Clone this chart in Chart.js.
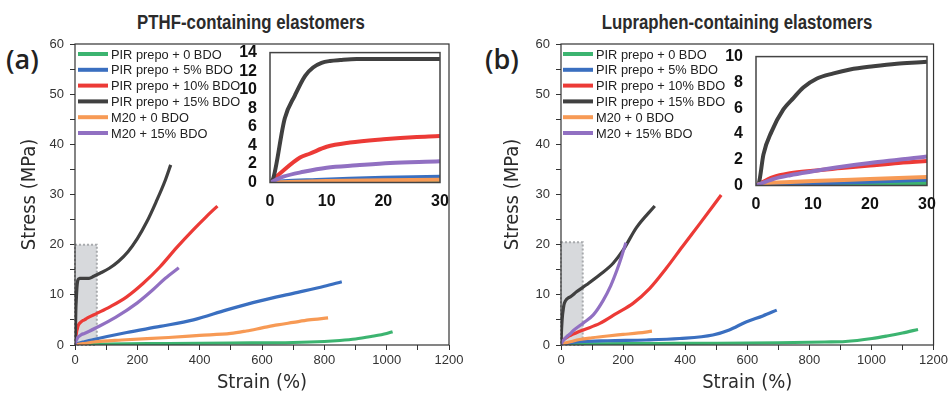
<!DOCTYPE html>
<html>
<head>
<meta charset="utf-8">
<script src="https://cdn.jsdelivr.net/npm/chart.js@4/dist/chart.umd.min.js"></script>
<style>
body { margin: 0; width: 951px; height: 395px; background: #fff; position: relative; overflow: hidden; }
canvas { position: absolute; }
.panelTitle { position: absolute; top: 9px; transform: translateX(-50%) scaleX(0.84); white-space: nowrap;
  font: bold 20px "Liberation Sans", Arial, sans-serif; color: #2b2b2b; line-height: 26px; }
.panelTag { position: absolute; top: 42px; font: 600 27px "Open Sans", sans-serif; color: #222; line-height: 34px; }
</style>
</head>
<body>

<div class="panelTitle" style="left:251px">PTHF-containing elastomers</div>
<div class="panelTitle" style="left:737px">Lupraphen-containing elastomers</div>
<div class="panelTag" style="left:6px">(a)</div>
<div class="panelTag" style="left:485px">(b)</div>

<canvas id="mainA" width="475" height="395" style="left:0;top:0"></canvas>
<canvas id="mainB" width="471" height="395" style="left:480px;top:0"></canvas>
<canvas id="insetA" width="215" height="172" style="left:235px;top:38px"></canvas>
<canvas id="insetB" width="225" height="172" style="left:722px;top:42px"></canvas>

<script>

const seriesLabels = [
    "PIR prepo + 0 BDO",
    "PIR prepo + 5% BDO",
    "PIR prepo + 10% BDO",
    "PIR prepo + 15% BDO",
    "M20 + 0 BDO",
    "M20 + 15% BDO"
];

const seriesColors = ["#3cb470", "#3a6fc0", "#ec3a36", "#404040", "#f79a55", "#9170c2"];

// (a) PTHF-containing elastomers, strain in %, stress in MPa
const pthfStrain0 = [0, 10, 30, 100, 300, 500, 700, 800, 850, 900, 950, 1000, 1019];
const pthfStress0 = [0, 0.06, 0.12, 0.2, 0.3, 0.4, 0.5, 0.7, 0.9, 1.2, 1.7, 2.3, 2.65];

const pthfStrain5 = [0, 2.4, 8.2, 14, 20, 30, 60, 166, 273, 380, 487, 594, 700, 800, 856];
const pthfStress5 = [0, 0.14, 0.28, 0.4, 0.5, 0.63, 1.1, 2.5, 3.7, 5.0, 7.0, 8.8, 10.3, 11.7, 12.6];

const pthfStrain10 = [0, 1.8, 5.3, 7, 10, 14.1, 20, 25.9, 30, 40, 70, 112, 166, 219, 273, 326, 380, 420, 457];
const pthfStress10 = [0, 1.0, 2.7, 3.1, 3.85, 4.3, 4.65, 4.9, 5.0, 5.4, 6.3, 7.6, 9.6, 12.3, 15.6, 19.4, 23.0, 25.5, 27.7];

const pthfStrain15 = [0, 0.5, 2.6, 4.4, 6.2, 7.6, 9.1, 10.6, 12.4, 15.3, 30, 45, 60, 80, 110, 140, 170, 200, 230, 260, 290, 307];
const pthfStress15 = [0, 0.3, 6.9, 9.4, 11.5, 12.4, 12.9, 13.1, 13.2, 13.3, 13.3, 13.3, 13.7, 14.3, 15.3, 16.7, 18.6, 21.2, 24.5, 28.5, 32.9, 35.9];

const pthfM20Strain0 = [0, 5, 10, 20, 30, 60, 150, 300, 400, 500, 550, 600, 650, 700, 750, 812];
const pthfM20Stress0 = [0, 0.08, 0.15, 0.25, 0.3, 0.6, 1.0, 1.5, 1.9, 2.3, 2.8, 3.4, 4.0, 4.5, 5.0, 5.4];

const pthfM20Strain15 = [0, 2.35, 5.9, 10, 15.3, 21.2, 30, 70, 130, 200, 250, 290, 333];
const pthfM20Stress15 = [0, 0.63, 1.15, 1.6, 1.85, 2.1, 2.3, 3.5, 5.5, 8.4, 11, 13.3, 15.4];

// (b) Lupraphen-containing elastomers
const lupStrain0 = [0, 10, 20, 30, 100, 300, 500, 700, 850, 916, 1002, 1050, 1100, 1150];
const lupStress0 = [0, 0.1, 0.15, 0.2, 0.25, 0.3, 0.35, 0.45, 0.6, 0.7, 1.3, 1.8, 2.4, 3.1];

const lupStrain5 = [0, 10, 20, 30, 60, 150, 275, 382, 489, 542, 596, 650, 695];
const lupStress5 = [0, 0.15, 0.3, 0.45, 0.65, 0.85, 1.0, 1.3, 2.0, 3.0, 4.6, 5.8, 6.95];

const lupStrain10 = [0, 3, 6, 10, 15, 20, 25, 30, 72, 125, 179, 232, 286, 339, 392, 446, 516];
const lupStress10 = [0, 0.65, 0.95, 1.15, 1.35, 1.55, 1.75, 1.9, 3.0, 4.3, 6.3, 8.3, 11.3, 15.3, 19.7, 24.1, 29.9];

const lupStrain15 = [0, 0.5, 1.3, 2.75, 4.8, 6.6, 8.3, 10.7, 13.6, 16.5, 20.6, 24.7, 30, 50, 82, 125, 168, 200, 243, 302];
const lupStress15 = [0, 0.2, 2.4, 4.2, 5.9, 6.8, 7.6, 8.3, 8.7, 9.0, 9.25, 9.45, 9.6, 10.6, 12.0, 14.0, 16.3, 18.9, 23.4, 27.7];

const lupM20Strain0 = [0, 0.5, 5, 10, 20, 30, 60, 100, 150, 200, 250, 293];
const lupM20Stress0 = [0, 0.1, 0.25, 0.35, 0.5, 0.65, 1.1, 1.45, 1.8, 2.1, 2.4, 2.75];

const lupM20Strain15 = [0, 3, 6, 10, 15, 20, 25, 30, 40, 72, 104, 135, 160, 180, 195, 209];
const lupM20Stress15 = [0, 0.5, 0.8, 1.1, 1.45, 1.75, 2.0, 2.25, 2.9, 4.4, 6.0, 8.8, 11.8, 14.9, 17.6, 20.4];

// grey box marking the zoomed region (strain %, stress MPa)
const zoomStrainMax = 70;
const zoomStressMaxA = 20;
const zoomStressMaxB = 20.5;

const SANS = '"Liberation Sans", Arial, sans-serif';
const CONDENSED = '"DejaVu Sans Condensed", "Liberation Sans", sans-serif';

const pthfSeries = [
    [pthfStrain0, pthfStress0],
    [pthfStrain5, pthfStress5],
    [pthfStrain10, pthfStress10],
    [pthfStrain15, pthfStress15],
    [pthfM20Strain0, pthfM20Stress0],
    [pthfM20Strain15, pthfM20Stress15]
];

const lupSeries = [
    [lupStrain0, lupStress0],
    [lupStrain5, lupStress5],
    [lupStrain10, lupStress10],
    [lupStrain15, lupStress15],
    [lupM20Strain0, lupM20Stress0],
    [lupM20Strain15, lupM20Stress15]
];

function buildDatasets(series, width) {
    return series.map((s, i) => ({
        label: seriesLabels[i],
        data: s[0].map((x, k) => ({ x: x, y: s[1][k] })),
        borderColor: seriesColors[i],
        borderWidth: width,
        pointRadius: 0,
        showLine: true,
        fill: false,
        cubicInterpolationMode: "monotone",
        order: -i
    }));
}

// frame round the plot area
const frameBox = {
    id: "frameBox",
    beforeDraw(chart, args, opts) {
        const a = chart.chartArea;
        if (opts.fill) {
            chart.ctx.save();
            chart.ctx.fillStyle = "#fff";
            chart.ctx.fillRect(a.left, a.top, a.right - a.left, a.bottom - a.top);
            chart.ctx.restore();
        }
    },
    afterDraw(chart, args, opts) {
        const ctx = chart.ctx;
        const a = chart.chartArea;
        ctx.save();
        ctx.strokeStyle = opts.color || "#333";
        ctx.lineWidth = opts.width || 1.2;
        ctx.strokeRect(a.left, a.top, a.right - a.left, a.bottom - a.top);
        ctx.restore();
    }
};

// shaded box for the region shown in the inset
const zoomBox = {
    id: "zoomBox",
    beforeDatasetsDraw(chart, args, opts) {
        if (!opts.show) return;
        const ctx = chart.ctx;
        const l = chart.scales.x.getPixelForValue(0);
        const r = chart.scales.x.getPixelForValue(opts.xMax);
        const t = chart.scales.y.getPixelForValue(opts.yMax);
        const b = chart.scales.y.getPixelForValue(0);
        ctx.save();
        ctx.fillStyle = "#d7d9dc";
        ctx.fillRect(l, t, r - l, b - t);
        ctx.setLineDash([2, 2]);
        ctx.strokeStyle = "#a8aaad";
        ctx.lineWidth = 2;
        ctx.strokeRect(l, t, r - l, b - t);
        ctx.restore();
    }
};

// legend stacked in the upper-left corner of the plot
const cornerLegend = {
    id: "cornerLegend",
    afterDatasetsDraw(chart, args, opts) {
        if (!opts.show) return;
        const ctx = chart.ctx;
        const a = chart.chartArea;
        ctx.save();
        ctx.font = "12.8px " + SANS;
        ctx.textBaseline = "middle";
        chart.data.datasets.forEach((ds, i) => {
            const x = a.left + opts.left;
            const y = a.top + opts.top + i * opts.row;
            ctx.strokeStyle = ds.borderColor;
            ctx.lineWidth = 4;
            ctx.beginPath();
            ctx.moveTo(x, y);
            ctx.lineTo(x + 30, y);
            ctx.stroke();
            ctx.fillStyle = "#222";
            ctx.fillText(ds.label, x + 33, y + 1);
        });
        ctx.restore();
    }
};

function mainChart(id, series, yTitlePad, rightPad, yWidth, legendLeft, boxYMax) {

    new Chart(

        document.getElementById(id),

        {
            type: "scatter",

            data: { datasets: buildDatasets(series, 3.2) },

            options: {
                responsive: false,
                animation: false,
                events: [],
                layout: { padding: { top: 44, right: rightPad, left: 0, bottom: 0 } },
                plugins: {
                    legend: { display: false },
                    tooltip: { enabled: false },
                    zoomBox: { show: true, xMax: zoomStrainMax, yMax: boxYMax },
                    cornerLegend: { show: true, left: legendLeft, top: 10, row: 15.8 },
                    frameBox: { color: "#333", width: 1.2 }
                },
                scales: {
                    x: {
                        type: "linear",
                        min: 0,
                        max: 1200,
                        ticks: {
                            stepSize: 100,
                            autoSkip: false,
                            maxRotation: 0,
                            padding: 3,
                            color: "#333",
                            font: { family: SANS, size: 13 },
                            callback: v => v % 200 === 0 ? v : ""
                        },
                        grid: { drawOnChartArea: false, tickLength: 5, color: "#333" },
                        border: { display: false },
                        title: {
                            display: true,
                            text: "Strain (%)",
                            color: "#2b2b2b",
                            font: { family: CONDENSED, size: 20 },
                            padding: { top: 0, bottom: 0 }
                        },
                        afterFit: s => { s.height = 50; }
                    },
                    y: {
                        type: "linear",
                        min: 0,
                        max: 60,
                        ticks: {
                            stepSize: 5,
                            autoSkip: false,
                            padding: 6,
                            color: "#333",
                            font: { family: SANS, size: 13 },
                            callback: v => v % 10 === 0 ? v : ""
                        },
                        grid: { drawOnChartArea: false, tickLength: 5, color: "#333" },
                        border: { display: false },
                        title: {
                            display: true,
                            text: "Stress (MPa)",
                            color: "#2b2b2b",
                            font: { family: CONDENSED, size: 20 },
                            padding: { top: yTitlePad, bottom: 0 }
                        },
                        afterFit: s => { s.width = yWidth; }
                    }
                }
            },

            plugins: [zoomBox, cornerLegend, frameBox]
        }

    );

}

function insetChart(id, series, yMax, yWidth, rightPad, xHeight, topPad) {

    new Chart(

        document.getElementById(id),

        {
            type: "scatter",

            data: { datasets: buildDatasets(series, 4) },

            options: {
                responsive: false,
                animation: false,
                events: [],
                layout: { padding: { top: topPad, right: rightPad, left: 0, bottom: 0 } },
                plugins: {
                    legend: { display: false },
                    tooltip: { enabled: false },
                    frameBox: { fill: true, color: "#444", width: 1.5 }
                },
                scales: {
                    x: {
                        type: "linear",
                        min: 0,
                        max: 30,
                        ticks: {
                            stepSize: 10,
                            maxRotation: 0,
                            autoSkip: false,
                            padding: 1,
                            color: "#111",
                            font: { family: SANS, size: 16, weight: "bold" }
                        },
                        grid: { display: false },
                        border: { display: false },
                        afterFit: s => { s.height = xHeight; }
                    },
                    y: {
                        type: "linear",
                        min: 0,
                        max: yMax,
                        ticks: {
                            stepSize: 2,
                            autoSkip: false,
                            padding: 5,
                            color: "#111",
                            font: { family: SANS, size: 16, weight: "bold" }
                        },
                        grid: { display: false },
                        border: { display: false },
                        afterFit: s => { s.width = yWidth; }
                    }
                }
            },

            plugins: [frameBox]
        }

    );

}

mainChart("mainA", pthfSeries, 18, 26, 75, 3, zoomStressMaxA);

mainChart("mainB", lupSeries, 21, 16, 81, 2, zoomStressMaxB);

insetChart("insetA", pthfSeries, 14, 35, 10, 27.5, 11.5);

insetChart("insetB", lupSeries, 10, 34, 20, 28.5, 11);

</script>
</body>
</html>
